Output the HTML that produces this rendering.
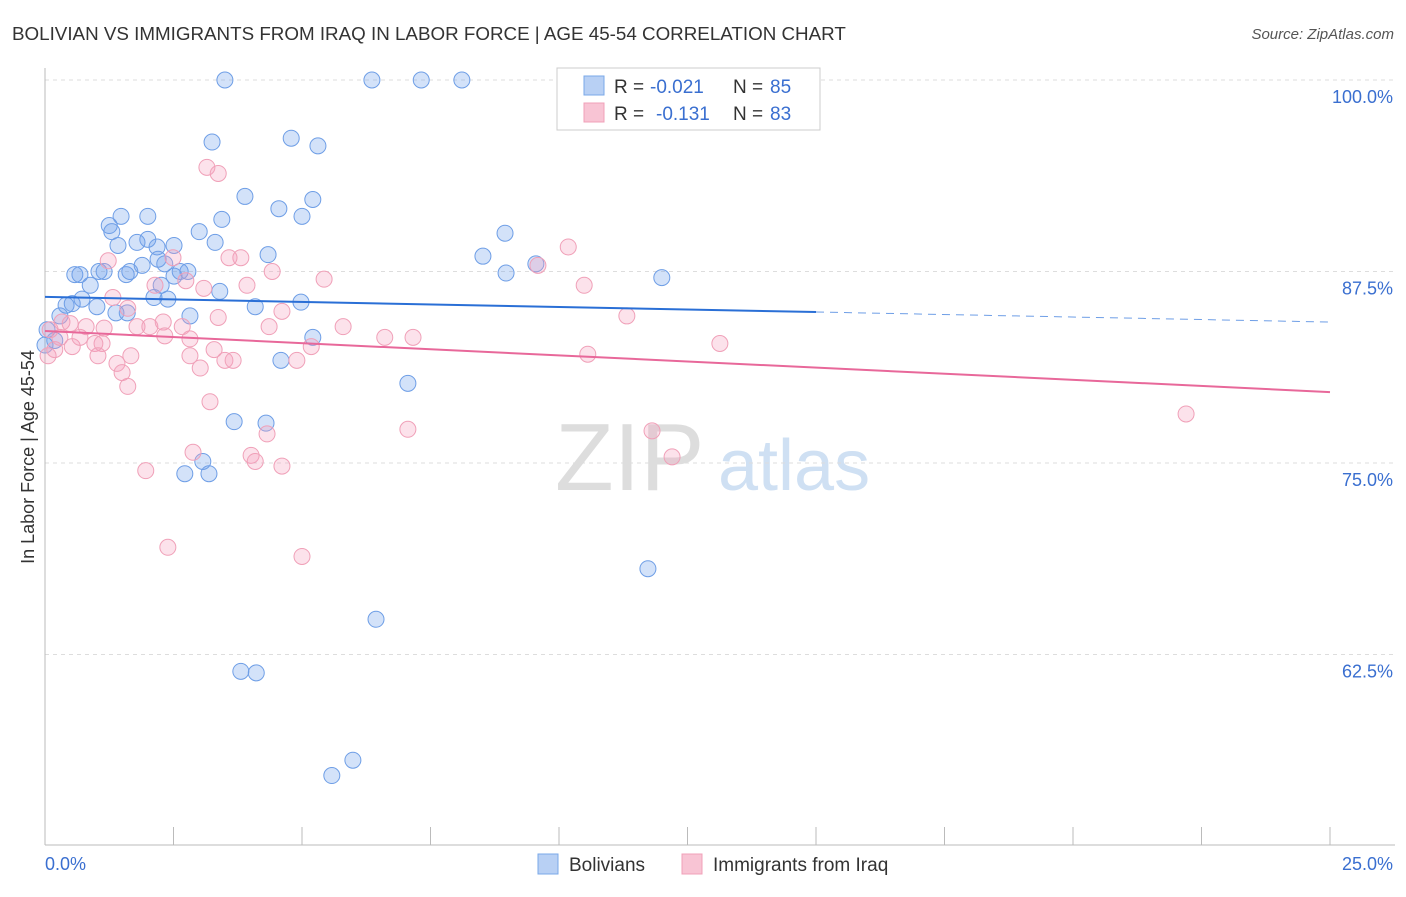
<!DOCTYPE html>
<html><head><meta charset="utf-8"><style>
body{margin:0;background:#fff;font-family:"Liberation Sans",sans-serif;}
svg text{font-family:"Liberation Sans",sans-serif;}
</style></head><body>
<svg id="c" width="1406" height="892" xmlns="http://www.w3.org/2000/svg">
<text x="12" y="40" font-size="18.8" fill="#333">BOLIVIAN VS IMMIGRANTS FROM IRAQ IN LABOR FORCE | AGE 45-54 CORRELATION CHART</text>
<text x="1394" y="39" font-size="15" fill="#555" font-style="italic" text-anchor="end">Source: ZipAtlas.com</text>
<text x="34" y="457" font-size="18" fill="#333" text-anchor="middle" transform="rotate(-90 34 457)">In Labor Force | Age 45-54</text>
<text x="555" y="490" font-size="96" fill="#ddd" font-family="Liberation Serif">ZIP</text>
<text x="718" y="490" font-size="72" fill="#cfe0f3">atlas</text>
<g id="grid"></g><g id="axes"></g><g id="pts"></g><g id="trend"></g>
<g>
<rect x="557" y="68" width="263" height="62" fill="#fff" stroke="#ccc"/>
<rect x="584" y="76" width="20" height="19" fill="#b8d0f4" stroke="#7aa8e8"/>
<g font-size="19">
<text x="614" y="93" fill="#333">R =</text><text x="650" y="93" fill="#3a6fd0">-0.021</text>
<text x="733" y="93" fill="#333">N =</text><text x="770" y="93" fill="#3a6fd0">85</text></g>
<rect x="584" y="103" width="20" height="19" fill="#f8c4d4" stroke="#f0a0b8"/>
<g font-size="19">
<text x="614" y="120" fill="#333">R =</text><text x="656" y="120" fill="#3a6fd0">-0.131</text>
<text x="733" y="120" fill="#333">N =</text><text x="770" y="120" fill="#3a6fd0">83</text></g>
</g>
<g>
<rect x="538" y="854" width="20" height="20" fill="#b8d0f4" stroke="#7aa8e8"/>
<text x="569" y="871" font-size="19" fill="#333">Bolivians</text>
<rect x="682" y="854" width="20" height="20" fill="#f8c4d4" stroke="#f0a0b8"/>
<text x="713" y="871" font-size="19" fill="#333">Immigrants from Iraq</text>
</g>
</svg>
<script>
const yTicks=[100,87.5,75,62.5];
const yTickLabels=["100.0%","87.5%","75.0%","62.5%"];
const blueX=[3.50,6.36,7.32,8.11,11.26,3.25,4.79,5.31,3.89,5.21,1.25,1.48,2.00,3.44,4.55,5.00,1.30,3.00,1.42,1.79,2.00,2.18,2.51,3.31,4.34,8.95,8.52,0.58,0.68,1.05,1.15,1.58,1.65,1.89,2.20,2.33,2.51,2.63,2.78,0.88,2.26,8.97,9.55,12.0,3.40,0.72,0.41,0.53,1.01,2.12,2.39,4.09,4.98,1.38,1.60,2.82,0.29,0.04,0.19,0.0,5.21,4.59,7.06,3.68,4.30,2.72,3.19,3.07,11.73,6.44,3.81,4.11,5.99,5.58];
const blueY=[100,100,100,100,100,95.95,96.2,95.7,92.4,92.2,90.5,91.1,91.1,90.9,91.6,91.1,90.1,90.1,89.2,89.4,89.6,89.1,89.2,89.4,88.6,90.0,88.5,87.3,87.3,87.5,87.5,87.3,87.5,87.9,88.3,88.0,87.2,87.5,87.5,86.6,86.6,87.4,88.0,87.1,86.2,85.7,85.3,85.4,85.2,85.8,85.7,85.2,85.5,84.8,84.8,84.6,84.6,83.7,83.0,82.7,83.2,81.7,80.2,77.7,77.6,74.3,74.3,75.1,68.1,64.8,61.4,61.3,55.6,54.6];
const pinkX=[3.15,3.37,10.18,9.59,3.81,3.58,4.42,5.43,1.23,2.14,2.74,2.49,3.93,10.49,3.09,1.32,1.61,0.33,0.49,0.80,1.15,1.79,2.04,2.30,2.67,3.37,4.36,4.61,5.80,11.32,6.61,7.16,2.33,2.82,0.53,1.11,0.68,0.97,1.03,1.67,2.82,3.29,3.50,3.66,4.90,5.18,10.56,13.13,1.40,1.50,1.61,3.02,3.21,4.32,7.06,11.81,12.2,2.88,4.01,4.09,4.61,1.96,2.39,5.00,22.2,0.06,0.19,0.29,0.10];
const pinkY=[94.3,93.9,89.1,87.9,88.4,88.4,87.5,87.0,88.2,86.6,86.9,88.4,86.6,86.6,86.4,85.8,85.1,84.2,84.1,83.9,83.8,83.9,83.9,84.2,83.9,84.5,83.9,84.9,83.9,84.6,83.2,83.2,83.3,83.1,82.6,82.8,83.2,82.8,82.0,82.0,82.0,82.4,81.7,81.7,81.7,82.6,82.1,82.8,81.5,80.9,80.0,81.2,79.0,76.9,77.2,77.1,75.4,75.7,75.5,75.1,74.8,74.5,69.5,68.9,78.2,82.0,82.4,83.2,83.7];
const blueTrend=[85.84,84.2];
const pinkTrend=[83.62,79.63];
const NS="http://www.w3.org/2000/svg";
const xs=v=>45+v*51.4, ys=v=>80+(100-v)*15.32;
function mk(p,t,a){const e=document.createElementNS(NS,t);for(const k in a)e.setAttribute(k,a[k]);document.getElementById(p).appendChild(e);return e;}
yTicks.forEach((t,i)=>{
 const l=mk('grid','line',{x1:45,x2:1395,y1:ys(t),y2:ys(t),stroke:'#ddd','stroke-dasharray':'4 4'});
 
 
 const tx=mk('grid','text',{x:1393,y:ys(t)+23,'font-size':18,fill:'#3a6fd0','text-anchor':'end'});
 tx.textContent=yTickLabels[i];
 
 
});
mk('axes','line',{x1:45,x2:45,y1:68,y2:845,stroke:'#bbb'});
mk('axes','line',{x1:45,x2:1395,y1:845,y2:845,stroke:'#bbb'});
for(let i=0;i<=10;i++){const x=xs(i*2.5);mk('axes','line',{x1:x,x2:x,y1:827,y2:845,stroke:'#bbb'});}
let t0=mk('axes','text',{x:45,y:870,'font-size':18,fill:'#3a6fd0'});t0.textContent='0.0%';


let t1=mk('axes','text',{x:1393,y:870,'font-size':18,fill:'#3a6fd0','text-anchor':'end'});t1.textContent='25.0%';


blueX.forEach((x,i)=>{const c=mk('pts','circle',{cx:xs(x),cy:ys(blueY[i]),r:8,fill:'rgba(110,160,235,0.3)',stroke:'#6e9ee6','stroke-width':1});
 
 });
pinkX.forEach((x,i)=>{const c=mk('pts','circle',{cx:xs(x),cy:ys(pinkY[i]),r:8,fill:'rgba(245,160,190,0.3)',stroke:'#f0a0b8','stroke-width':1});
 
 });
const bm=blueTrend[0]+(blueTrend[1]-blueTrend[0])*15/25;
let b1=mk('trend','line',{x1:xs(0),y1:ys(blueTrend[0]),x2:xs(15),y2:ys(bm),stroke:'#2a6fd6','stroke-width':2});


let b2=mk('trend','line',{x1:xs(15),y1:ys(bm),x2:xs(25),y2:ys(blueTrend[1]),stroke:'#6e9ee6','stroke-width':1,'stroke-dasharray':'8 6'});


let p1=mk('trend','line',{x1:xs(0),y1:ys(pinkTrend[0]),x2:xs(25),y2:ys(pinkTrend[1]),stroke:'#e8689a','stroke-width':2});


</script>
</body></html>
